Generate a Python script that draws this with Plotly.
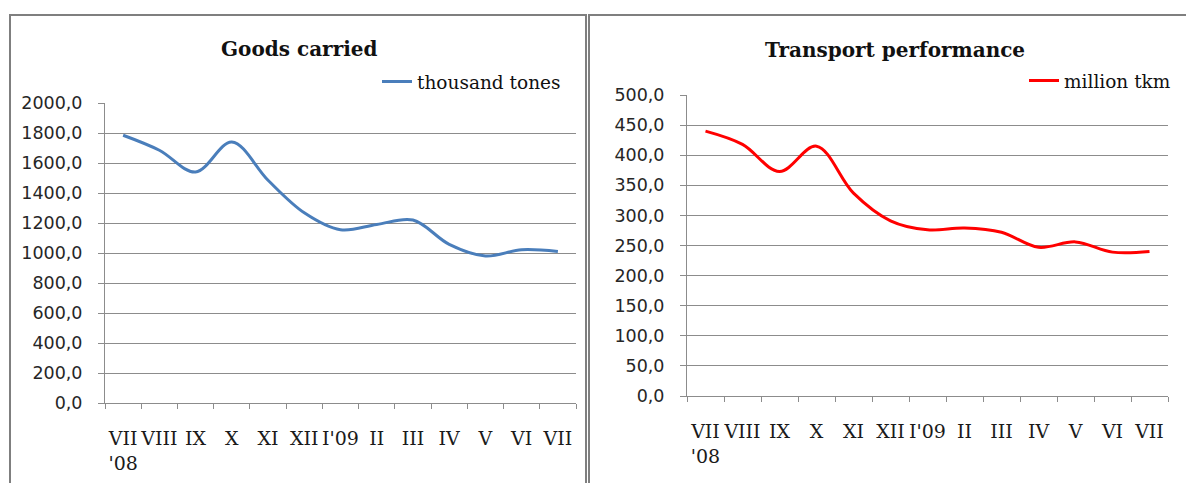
import plotly.graph_objects as go

# ---- data ----
month_labels = ["VII<br>'08", "VIII", "IX", "X", "XI", "XII", "I'09", "II", "III", "IV", "V", "VI", "VII"]
goods_thousand_tonnes = [1785, 1685, 1540, 1740, 1485, 1268, 1155, 1190, 1220, 1058, 980, 1022, 1010]
transport_million_tkm = [440, 418, 373, 415, 337, 291, 276, 279, 272, 247, 256, 239, 240]
left_title = "Goods carried"
right_title = "Transport performance"
left_series = "thousand tones"
right_series = "million tkm"

W, H = 1186, 483
xpos = list(range(len(month_labels)))

def px_x(p):
    return p / W

def px_y(p):
    return (H - p) / H

fig = go.Figure()
fig.add_trace(go.Scatter(
    x=xpos, y=goods_thousand_tonnes, mode="lines", name=left_series,
    line=dict(color="#4a7ebb", width=3, shape="spline", smoothing=1),
    xaxis="x", yaxis="y", legend="legend", hoverinfo="skip"))
fig.add_trace(go.Scatter(
    x=xpos, y=transport_million_tkm, mode="lines", name=right_series,
    line=dict(color="#ff0000", width=3, shape="spline", smoothing=1),
    xaxis="x2", yaxis="y2", legend="legend2", hoverinfo="skip"))

grid_col = "#8c8c8c"
xlab_font = dict(family="DejaVu Serif", size=19, color="#1a1a1a")
ylab_font = dict(family="DejaVu Sans", size=17.5, color="#262626")

def xaxis_cfg(domain, anchor):
    return dict(
        domain=domain, anchor=anchor, range=[-0.5, len(month_labels) - 0.5],
        tickmode="array", tickvals=xpos, ticktext=month_labels,
        ticks="", showgrid=False, zeroline=False, automargin=False,
        showline=True, linecolor=grid_col, linewidth=1,
        minor=dict(tick0=-0.5, dtick=1, ticks="outside", ticklen=5,
                   tickcolor=grid_col, showgrid=False),
        tickfont=xlab_font, ticklabelstandoff=18, fixedrange=True)

def yaxis_cfg(domain, anchor, rng, dtick):
    return dict(
        domain=domain, anchor=anchor, range=rng, dtick=dtick, tick0=0,
        tickformat=".1f", ticks="outside", ticklen=6, tickcolor=grid_col,
        showgrid=True, gridcolor=grid_col, gridwidth=1, zeroline=False,
        showline=True, linecolor=grid_col, linewidth=1, automargin=False,
        tickfont=ylab_font, ticklabelstandoff=12, fixedrange=True)

legend_common = dict(
    font=dict(family="DejaVu Serif", size=18.5, color="#111111"),
    bgcolor="rgba(0,0,0,0)", borderwidth=0, xanchor="right", yanchor="middle",
    itemwidth=30, tracegroupgap=0)

fig.update_layout(
    width=W, height=H, margin=dict(l=0, r=0, t=0, b=0, pad=0, autoexpand=False),
    paper_bgcolor="white", plot_bgcolor="white",
    separators=", ",
    showlegend=True,
    xaxis=xaxis_cfg([px_x(105), px_x(576)], "y"),
    yaxis=yaxis_cfg([px_y(403), px_y(103)], "x", [0, 2000], 200),
    xaxis2=xaxis_cfg([px_x(687), px_x(1168)], "y2"),
    yaxis2=yaxis_cfg([px_y(396), px_y(95)], "x2", [0, 500], 50),
    legend=dict(x=px_x(566), y=px_y(82), **legend_common),
    legend2=dict(x=px_x(1176), y=px_y(81), **legend_common),
    annotations=[
        dict(text="<b>" + left_title + "</b>", x=px_x(299), y=px_y(49),
             xref="paper", yref="paper", showarrow=False,
             xanchor="center", yanchor="middle",
             font=dict(family="DejaVu Serif", size=20, color="#111111")),
        dict(text="<b>" + right_title + "</b>", x=px_x(895), y=px_y(50),
             xref="paper", yref="paper", showarrow=False,
             xanchor="center", yanchor="middle",
             font=dict(family="DejaVu Serif", size=20, color="#111111")),
    ],
    shapes=[
        dict(type="rect", xref="paper", yref="paper",
             x0=px_x(10), x1=px_x(586), y0=-0.05, y1=px_y(15),
             line=dict(color="#7f7f7f", width=2)),
        dict(type="rect", xref="paper", yref="paper",
             x0=px_x(589), x1=1.05, y0=-0.05, y1=px_y(15),
             line=dict(color="#7f7f7f", width=2)),
    ],
)

fig.write_html(
    "out.html",
    config=dict(displayModeBar=False, staticPlot=True),
    post_script="document.body.style.margin='0';document.body.style.overflow='hidden';")
